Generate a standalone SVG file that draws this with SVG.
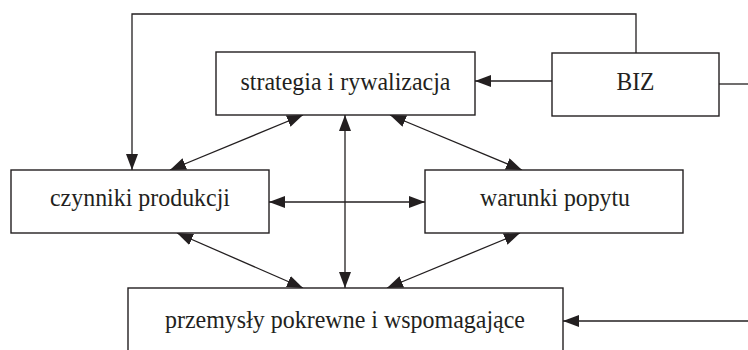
<svg xmlns="http://www.w3.org/2000/svg" width="748" height="350" viewBox="0 0 748 350">
  <style>
    .box { fill: #ffffff; stroke: #231f20; stroke-width: 1.4; }
    .label { font-family: "Liberation Serif", "Times New Roman", serif; font-size: 26px; fill: #231f20; text-anchor: middle; }
    .link { fill: none; stroke: #231f20; stroke-width: 1.3; }
    .one { marker-end: url(#head); }
    .two { marker-start: url(#head); marker-end: url(#head); }
  </style>
  <defs>
    <marker id="head" markerUnits="userSpaceOnUse" markerWidth="17" markerHeight="13" refX="16" refY="6" orient="auto-start-reverse">
      <path d="M0,0 L16,6 L0,12 z" fill="#231f20"/>
    </marker>
  </defs>

  <rect width="748" height="350" fill="#ffffff"/>

  <g id="connectors">
    <path class="link one" d="M636,53 V14 H132 V170"/>
    <path class="link one" d="M552,81 H475"/>
    <path class="link" d="M719,84 H748"/>
    <path class="link one" d="M748,321 H563"/>
    <path class="link two" d="M303,115 L170,170"/>
    <path class="link two" d="M390,115 L522,170"/>
    <path class="link two" d="M345,115 V288"/>
    <path class="link two" d="M269,202 H425"/>
    <path class="link two" d="M177,233 L303,288"/>
    <path class="link two" d="M520,233 L387,288"/>
  </g>

  <g id="strategia">
    <rect class="box" x="216" y="52" width="259" height="63"/>
    <text class="label" x="345.5" y="90" textLength="210" lengthAdjust="spacingAndGlyphs">strategia i rywalizacja</text>
  </g>

  <g id="biz">
    <rect class="box" x="552" y="53" width="167" height="63"/>
    <text class="label" x="635.5" y="90" textLength="38" lengthAdjust="spacingAndGlyphs">BIZ</text>
  </g>

  <g id="czynniki">
    <rect class="box" x="11" y="170" width="258" height="63"/>
    <text class="label" x="140" y="206" textLength="180" lengthAdjust="spacingAndGlyphs">czynniki produkcji</text>
  </g>

  <g id="warunki">
    <rect class="box" x="425" y="170" width="258" height="63"/>
    <text class="label" x="555" y="206" textLength="150" lengthAdjust="spacingAndGlyphs">warunki popytu</text>
  </g>

  <g id="przemysly">
    <rect class="box" x="128" y="288" width="435" height="80"/>
    <text class="label" x="345" y="328" textLength="360" lengthAdjust="spacingAndGlyphs">przemysły pokrewne i wspomagające</text>
  </g>
</svg>
